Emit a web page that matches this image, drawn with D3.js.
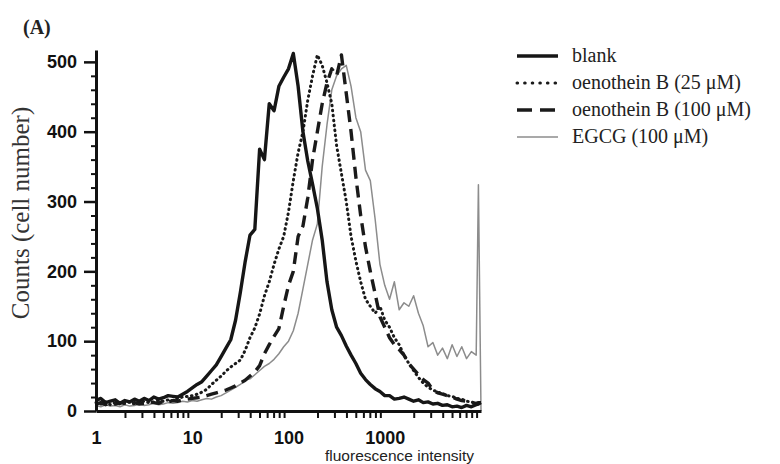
<!DOCTYPE html>
<html>
<head>
<meta charset="utf-8">
<script src="https://cdn.jsdelivr.net/npm/d3@7"></script>
<style>
  body { margin: 0; background: #fff; }
  svg { display: block; }
</style>
</head>
<body>
<div id="chart"></div>
<script>
// fluorescence intensity channels (log scale), shared by all histograms
const intensity = [1, 1.122, 1.259, 1.413, 1.585, 1.778, 1.995, 2.239, 2.512, 2.818,
  3.162, 3.548, 3.981, 4.467, 5.012, 5.623, 6.310, 7.079, 7.943, 8.913,
  10, 11.22, 12.59, 14.13, 15.85, 17.78, 19.95, 22.39, 25.12, 28.18,
  31.62, 35.48, 39.81, 44.67, 50.12, 56.23, 63.10, 70.79, 79.43, 89.13,
  100, 112.2, 125.9, 141.3, 158.5, 177.8, 199.5, 223.9, 251.2, 281.8,
  316.2, 354.8, 398.1, 446.7, 501.2, 562.3, 631.0, 707.9, 794.3, 891.3,
  1000, 1122, 1259, 1413, 1585, 1778, 1995, 2239, 2512, 2818,
  3162, 3548, 3981, 4467, 5012, 5623, 6310, 7079, 7943, 8913,
  9400, 10000];

const blank = [15, 18, 12, 14, 16, 11, 15, 13, 17, 14,
  18, 15, 20, 17, 19, 22, 21, 20, 24, 28,
  33, 38, 42, 50, 58, 66, 78, 90, 102, 130,
  170, 214, 252, 260, 375, 360, 440, 430, 465, 478,
  490, 512, 465, 400, 358, 325, 290, 245, 185, 145,
  120, 108, 93, 80, 68, 54, 45, 38, 32, 28,
  22, 22, 17, 18, 20, 17, 14, 16, 12, 13,
  10, 11, 8, 9, 6, 7, 5, 8, 6, 9,
  10, 12];

const oeno25 = [12, 10, 13, 9, 12, 10, 11, 13, 10, 12,
  14, 12, 13, 15, 14, 16, 15, 18, 20, 21,
  22, 24, 27, 31, 38, 44, 50, 57, 63, 68,
  73, 87, 105, 119, 139, 165, 185, 210, 232, 250,
  285, 330, 370, 400, 445, 480, 510, 495, 470, 440,
  380, 340, 300, 250, 215, 185, 160, 150, 140, 150,
  130, 120, 105, 95, 80, 68, 58, 48, 40, 34,
  30, 27, 25, 22, 21, 18, 17, 14, 13, 11,
  10, 10];

const oeno100 = [10, 12, 9, 11, 10, 12, 11, 9, 12, 10,
  11, 13, 12, 11, 14, 13, 15, 14, 16, 17,
  18, 19, 20, 22, 24, 26, 28, 30, 33, 36,
  40, 44, 50, 56, 65, 82, 95, 107, 118, 150,
  180, 200, 250, 265, 305, 360, 400, 440, 470, 490,
  480, 510, 455, 400, 335, 280, 235, 200, 168, 135,
  120, 105, 95, 88, 80, 68, 60, 52, 45, 40,
  30, 26, 24, 22, 20, 17, 15, 14, 12, 11,
  12, 12];

const egcg = [8, 6, 9, 7, 8, 6, 9, 7, 8, 10,
  8, 9, 11, 9, 10, 12, 11, 12, 14, 13,
  15, 14, 16, 18, 17, 20, 22, 26, 30, 34,
  38, 44, 46, 52, 58, 64, 68, 74, 82, 92,
  100, 115, 140, 175, 210, 245, 268, 350, 410, 460,
  480, 490, 495, 465, 420, 400, 345, 330, 275, 210,
  180, 160, 185, 145, 155, 150, 165, 140, 122, 92,
  98, 80, 90, 75, 95, 78, 92, 75, 85, 80,
  324, 0];

const seriesNames = ["blank", "oenothein B (25 \u03bcM)", "oenothein B (100 \u03bcM)", "EGCG (100 \u03bcM)"];
const seriesValues = [blank, oeno25, oeno100, egcg];

const xTickLabels = [1, 10, 100, 1000];
const xMinorTicks = [2, 3, 4, 5, 6, 7, 8, 9, 20, 30, 40, 50, 60, 70, 80, 90,
  200, 300, 400, 500, 600, 700, 800, 900, 2000, 3000, 4000, 5000, 6000, 7000, 8000, 9000];
const yTicks = [0, 100, 200, 300, 400, 500];
const yMinorTicks = [20, 40, 60, 80, 120, 140, 160, 180, 220, 240, 260, 280,
  320, 340, 360, 380, 420, 440, 460, 480];

const width = 780, height = 464;

// line styles per series
const styles = [
  { stroke: "#161616", width: 3.4, dash: null, cap: "butt" },
  { stroke: "#1a1a1a", width: 3, dash: "0.6 4.4", cap: "round" },
  { stroke: "#1a1a1a", width: 3.4, dash: "12 7", cap: "butt" },
  { stroke: "#8c8c8c", width: 1.5, dash: null, cap: "butt" }
];

const svg = d3.select("#chart")
              .append("svg")
              .attr("width", width)
              .attr("height", height);

const xScale = d3.scaleLog([1, 10000], [96, 481]);
const yScale = d3.scaleLinear([0, 517], [411, 50]);

// series, grey first so the black curves sit on top
const drawOrder = [3, 2, 1, 0];
const line = d3.line()
               .x((d, i) => xScale(intensity[i]))
               .y(d => yScale(d));

svg.append("g")
   .selectAll("path")
   .data(drawOrder)
   .join("path")
   .attr("d", s => line(seriesValues[s]))
   .attr("fill", "none")
   .attr("stroke", s => styles[s].stroke)
   .attr("stroke-width", s => styles[s].width)
   .attr("stroke-dasharray", s => styles[s].dash)
   .attr("stroke-linecap", s => styles[s].cap)
   .attr("stroke-linejoin", "round");

// y axis
const yAxis = d3.axisLeft(yScale).tickValues(yTicks).tickSizeInner(12).tickSizeOuter(0).tickPadding(7);
svg.append("g")
   .attr("transform", "translate(96,0)")
   .call(yAxis)
   .call(g => g.select(".domain").attr("stroke", "#111").attr("stroke-width", 3))
   .call(g => g.selectAll(".tick line").attr("stroke", "#111").attr("stroke-width", 2.5))
   .call(g => g.selectAll("text")
               .attr("fill", "#111")
               .style("font", "bold 18px 'Liberation Sans', Arial, sans-serif"));

svg.append("g")
   .attr("transform", "translate(96,0)")
   .call(d3.axisLeft(yScale).tickValues(yMinorTicks).tickSize(5).tickFormat(""))
   .call(g => g.select(".domain").remove())
   .call(g => g.selectAll(".tick line").attr("stroke", "#111").attr("stroke-width", 2));

// x axis
svg.append("g")
   .attr("transform", "translate(0,411)")
   .call(d3.axisBottom(xScale).tickValues(xMinorTicks).tickSizeInner(7).tickSizeOuter(0).tickFormat(""))
   .call(g => g.select(".domain").attr("stroke", "#111").attr("stroke-width", 3))
   .call(g => g.selectAll(".tick line").attr("stroke", "#111").attr("stroke-width", 2));

svg.append("g")
   .attr("transform", "translate(0,411)")
   .call(d3.axisBottom(xScale).tickValues(xTickLabels).tickSize(0).tickPadding(20).tickFormat(d3.format("d")))
   .call(g => g.select(".domain").remove())
   .call(g => g.selectAll("text")
               .attr("fill", "#111")
               .style("font", "bold 18px 'Liberation Sans', Arial, sans-serif"));

svg.append("text")
   .attr("x", 325)
   .attr("y", 460.5)
   .attr("fill", "#222")
   .style("font", "15.5px 'Liberation Sans', Arial, sans-serif")
   .text("fluorescence intensity");

svg.append("text")
   .attr("transform", "translate(29,213) rotate(-90)")
   .attr("text-anchor", "middle")
   .attr("fill", "#333")
   .style("font", "25px 'Liberation Serif', 'Times New Roman', serif")
   .text("Counts (cell number)");

svg.append("text")
   .attr("x", 23)
   .attr("y", 34)
   .attr("fill", "#222")
   .style("font", "bold 20px 'Liberation Serif', 'Times New Roman', serif")
   .text("(A)");

// legend
const legendRows = [62, 89, 116, 143];
const legend = svg.append("g");

legend.selectAll("line")
      .data(drawOrder.slice().reverse())
      .join("line")
      .attr("x1", 517)
      .attr("x2", 558)
      .attr("y1", s => legendRows[s] - 6)
      .attr("y2", s => legendRows[s] - 6)
      .attr("stroke", s => styles[s].stroke)
      .attr("stroke-width", s => styles[s].width)
      .attr("stroke-dasharray", s => s === 1 ? "0.6 7" : s === 2 ? "15 8" : null)
      .attr("stroke-linecap", s => styles[s].cap);

legend.selectAll("text")
      .data(seriesNames)
      .join("text")
      .attr("x", 572)
      .attr("y", (d, i) => legendRows[i])
      .attr("fill", "#222")
      .style("font", "20px 'Liberation Serif', 'Times New Roman', serif")
      .text(d => d);
</script>
</body>
</html>
